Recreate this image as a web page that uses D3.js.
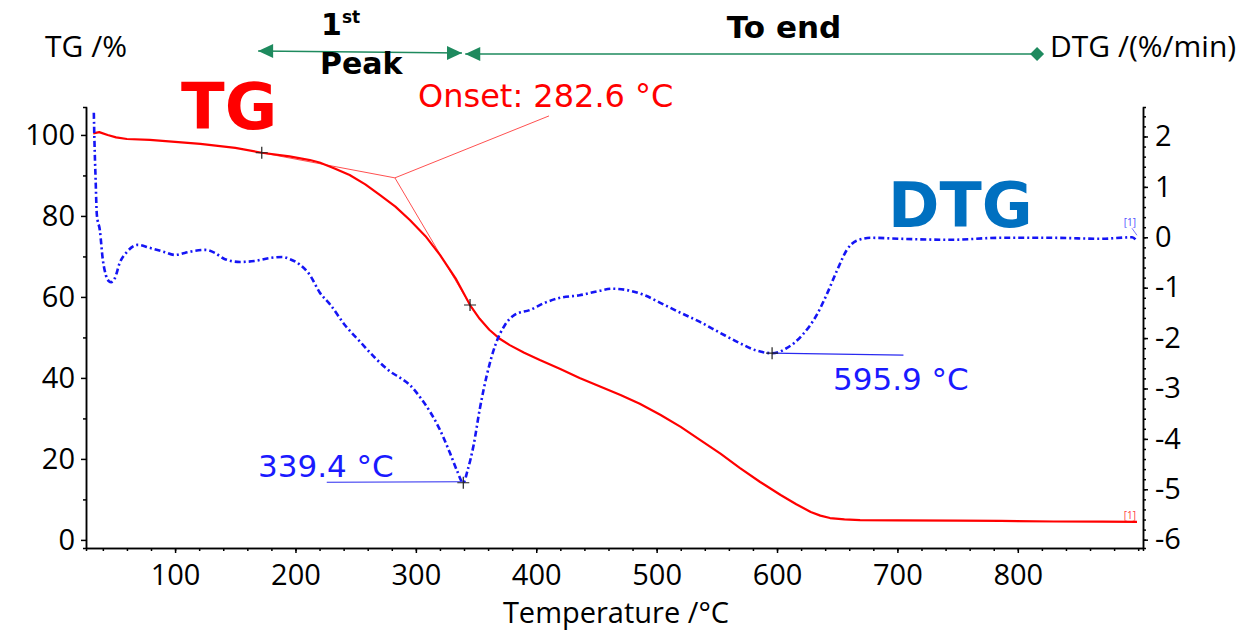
<!DOCTYPE html>
<html><head><meta charset="utf-8">
<script src="https://cdn.jsdelivr.net/npm/d3@7"></script>
<style>body{margin:0;background:#fff}svg{display:block}</style>
</head><body><svg id="c" width="1258" height="632" font-family='"Open Sans","Noto Sans",sans-serif'></svg>
<script>
// ---- data ----
const tgT = [32,37,44,51,60,79,100,121,150,172,195,212,220,232,245,258,270,283,295,308,320,333,345,353,361,370,378,390,403,420,436,453,470,486,503,520,536,553,569,586,603,616,628,636,644,656,669,700,750,786,830,870,899];
const tgV = [100.4,100.7,100.0,99.4,99.0,98.8,98.3,97.8,96.8,95.6,94.7,93.8,93.2,91.8,90.1,87.8,85.2,82.3,79.0,75.0,70.4,64.6,58.0,54.6,51.9,49.6,48.1,46.2,44.4,42.2,40.0,37.9,35.8,33.6,30.9,27.9,24.7,21.3,17.8,14.3,11.1,8.8,6.9,6.0,5.4,5.05,4.9,4.8,4.75,4.7,4.55,4.5,4.45];
const dtgT = [32.5,33,34,35,37.5,40,42.5,45,47,50,54,60,69,79,91,100,108,116,125,133,141,154,166,179,189,195,204,212,220,229,241,254,266,279,287,295,304,312,320,328,334,339.4,343,348,353,359,366,374,382,395,407,420,436,453,463,478,490,503,520,536,553,569,582,595.9,608,621,633,641,650,658,666,678,703,744,786,827,869,895,899];
const dtgV = [2.47,1.93,1.14,0.45,0.14,-0.45,-0.75,-0.87,-0.89,-0.81,-0.51,-0.29,-0.15,-0.21,-0.29,-0.35,-0.31,-0.27,-0.25,-0.31,-0.43,-0.49,-0.47,-0.41,-0.39,-0.43,-0.55,-0.75,-1.09,-1.34,-1.74,-2.08,-2.39,-2.67,-2.79,-2.93,-3.19,-3.47,-3.82,-4.26,-4.62,-4.87,-4.62,-4.12,-3.42,-2.73,-2.14,-1.74,-1.54,-1.44,-1.30,-1.20,-1.15,-1.06,-1.02,-1.06,-1.15,-1.30,-1.50,-1.68,-1.90,-2.10,-2.24,-2.30,-2.20,-1.94,-1.54,-1.15,-0.65,-0.25,-0.07,-0.01,-0.03,-0.05,-0.01,-0.01,-0.03,0.0,-0.08];
const xTicks = [100,200,300,400,500,600,700,800];
const yLTicks = [0,20,40,60,80,100];
const yRTicks = [2,1,0,-1,-2,-3,-4,-5,-6];
const onsetT = 282.6, onsetTG = 89.4;
const tangentA = [[172,95.6],[282.6,89.4]];
const tangentB = [[282.6,89.4],[345,58.0]];
const onsetLeader = [[282.6,89.4],[410.6,104.7]];
const markersTG = [[172,95.6],[345,58.0]];
const peak1 = {t:339.4, v:-4.87, lineFrom:226, label:"339.4 °C"};
const peak2 = {t:595.9, v:-2.30, lineTo:705, label:"595.9 °C"};
const range1 = [169, 338.3], range2 = [341, 816];

// ---- scales ----
const svg = d3.select("#c");
const x = d3.scaleLinear().domain([26,904]).range([86,1143]);
const yL = d3.scaleLinear().domain([-2,106.9]).range([548,107]);
const yR = d3.scaleLinear().domain([-6.165,2.585]).range([548,107]);
const fmt = d => d < 0 ? "-" + (-d) : String(d);
const DV = '"DejaVu Sans",Verdana,sans-serif';
const OS = '"Open Sans","Noto Sans",sans-serif';

// axes
function styleAxis(g){ g.attr("font-family",OS); g.selectAll("path,line").attr("stroke","#000").attr("stroke-width",1.5); g.selectAll("text").attr("font-size",29).attr("fill","#000"); }
svg.append("g").attr("transform","translate(0,548)").call(d3.axisBottom(x).tickValues(d3.range(40,904,20)).tickSize(3).tickFormat("")).call(styleAxis);
svg.append("g").attr("transform","translate(0,548)").call(d3.axisBottom(x).tickValues(xTicks).tickSize(5).tickSizeOuter(0).tickPadding(11)).call(styleAxis);
svg.append("g").attr("transform","translate(86,0)").call(d3.axisLeft(yL).tickValues(d3.range(10,106,20)).tickSize(3).tickFormat("")).call(styleAxis);
svg.append("g").attr("transform","translate(86,0)").call(d3.axisLeft(yL).tickValues(yLTicks).tickSize(5).tickSizeOuter(0).tickPadding(6)).call(styleAxis);
svg.append("g").attr("transform","translate(1143,0)").call(d3.axisRight(yR).tickValues(d3.range(-6,2.6,0.2)).tickSize(3).tickFormat("")).call(styleAxis);
svg.append("g").attr("transform","translate(1143,0)").call(d3.axisRight(yR).tickValues(yRTicks).tickSize(5).tickSizeOuter(0).tickPadding(7).tickFormat(fmt)).call(styleAxis);

// axis titles
svg.append("text").attr("x",616).attr("y",623).attr("text-anchor","middle").attr("font-family",OS).attr("font-size",29).text("Temperature /°C");
svg.append("text").attr("x",45).attr("y",57).attr("font-family",OS).attr("font-size",30).text("TG /%");
svg.append("text").attr("x",1050).attr("y",57).attr("font-family",OS).attr("font-size",30).text("DTG /(%/min)");

// tangent lines
const lineL = d3.line().x(d=>x(d[0])).y(d=>yL(d[1]));
[tangentA,tangentB,onsetLeader].forEach(s=>svg.append("path").attr("d",lineL(s)).attr("fill","none").attr("stroke","#ff5050").attr("stroke-width",1));

// TG curve
svg.append("path").attr("d",lineL(tgT.map((t,i)=>[t,tgV[i]]))).attr("fill","none").attr("stroke","#ff0000").attr("stroke-width",2.2).attr("stroke-linejoin","round");

// DTG curve
const lineR = d3.line().curve(d3.curveMonotoneX).x(d=>x(d[0])).y(d=>yR(d[1]));
svg.append("path").attr("d",lineR(dtgT.map((t,i)=>[t,dtgV[i]]))).attr("fill","none").attr("stroke","#1515f5").attr("stroke-width",2.6).attr("stroke-dasharray","6,3,2,3");

// peak lines
svg.append("path").attr("d",d3.line()([[x(peak1.lineFrom),yR(peak1.v)-0.5],[x(peak1.t),yR(peak1.v)-1]])).attr("stroke","#2a2af0").attr("stroke-width",1.2);
svg.append("path").attr("d",d3.line()([[x(peak2.t),yR(peak2.v)],[x(peak2.lineTo),yR(peak2.v)+2]])).attr("stroke","#2a2af0").attr("stroke-width",1.2);

// crosses
function cross(px,py){ svg.append("path").attr("d",`M${px-6},${py}H${px+6}M${px},${py-6}V${py+6}`).attr("stroke","#222").attr("stroke-width",1.2); }
markersTG.forEach(m=>cross(x(m[0]),yL(m[1])));
cross(x(peak1.t),yR(peak1.v)); cross(x(peak2.t),yR(peak2.v));

// end labels [1]
svg.append("text").attr("x",x(899)-1).attr("y",yR(0)-11).attr("text-anchor","end").attr("font-family",OS).attr("font-size",10).attr("fill","#5050ff").text("[1]");
svg.append("path").attr("d",`M${x(899)-5},${yR(0)-9}L${x(899)},${yR(0)-2}`).attr("stroke","#5050ff").attr("stroke-width",0.8);
svg.append("text").attr("x",x(899)-1).attr("y",yL(4.45)-3).attr("text-anchor","end").attr("font-family",OS).attr("font-size",10).attr("fill","#ff4040").text("[1]");

// annotation labels
svg.append("text").attr("x",418).attr("y",107).attr("font-family",DV).attr("font-size",32).attr("fill","#ff0000").text("Onset: " + onsetT + " °C");
svg.append("text").attr("x",258).attr("y",477).attr("font-family",DV).attr("font-size",31).attr("fill","#1a1aff").text(peak1.label);
svg.append("text").attr("x",833).attr("y",390).attr("font-family",DV).attr("font-size",31).attr("fill","#1a1aff").text(peak2.label);
svg.append("text").attr("x",181).attr("y",129).attr("font-family",DV).attr("font-size",64).attr("font-weight","bold").attr("fill","#ff0000").text("TG");
svg.append("text").attr("x",888).attr("y",227).attr("font-family",DV).attr("font-size",62).attr("font-weight","bold").attr("fill","#0070c0").text("DTG");

// range arrows
const green = "#1e8a5e";
const ay1 = 51, ay2 = 54;
svg.append("line").attr("x1",x(range1[0])).attr("y1",ay1).attr("x2",x(range1[1])).attr("y2",ay2-1).attr("stroke",green).attr("stroke-width",1.6);
svg.append("path").attr("d",`M${x(range1[0])},${ay1}l15,-7v14z`).attr("fill",green);
svg.append("path").attr("d",`M${x(range1[1])},${ay2-1}l-15,-7v14z`).attr("fill",green);
svg.append("line").attr("x1",x(range2[0])).attr("y1",ay2).attr("x2",x(range2[1])).attr("y2",ay2).attr("stroke",green).attr("stroke-width",1.6);
svg.append("path").attr("d",`M${x(range2[0])},${ay2}l15,-7v14z`).attr("fill",green);
svg.append("path").attr("d",`M${x(range2[1])},${ay2}l-7,-7l-7,7l7,7z`).attr("transform","translate(7,0)").attr("fill",green);

// range labels
const t1 = svg.append("text").attr("x",321).attr("y",35).attr("font-family",DV).attr("font-size",30).attr("font-weight","bold");
t1.append("tspan").text("1");
t1.append("tspan").attr("font-size",17).attr("dy",-12).text("st");
svg.append("text").attr("x",320).attr("y",74).attr("font-family",DV).attr("font-size",30).attr("font-weight","bold").text("Peak");
svg.append("text").attr("x",784).attr("y",38).attr("text-anchor","middle").attr("font-family",DV).attr("font-size",31).attr("font-weight","bold").text("To end");
</script></body></html>
